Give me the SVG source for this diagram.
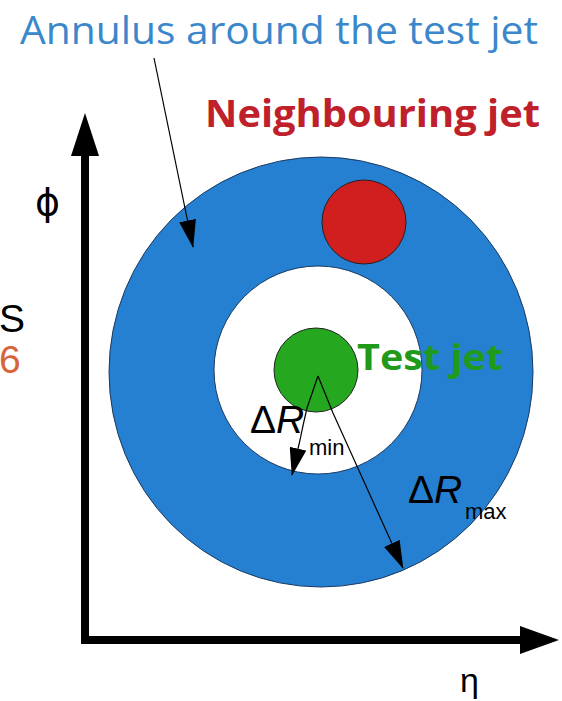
<svg xmlns="http://www.w3.org/2000/svg" width="562" height="701" viewBox="0 0 562 701">
<style>
.lbl{font-family:"Open Sans","Noto Sans",sans-serif}
.sym{font-family:"Liberation Sans","DejaVu Sans",sans-serif}
.thin{fill:none;stroke:#000;stroke-width:1.2}
</style>
<defs>
<marker id="ahs" viewBox="0 0 28 17" refX="27" refY="8.5" markerWidth="28" markerHeight="17" markerUnits="userSpaceOnUse" orient="auto">
<path d="M0,0 L28,8.5 L0,17 z" fill="#000"/>
</marker>
</defs>
<rect width="562" height="701" fill="#fff"/>
<g id="annulus">
<ellipse cx="321" cy="372" rx="212" ry="215" fill="#2680d2" stroke="#1a3a60" stroke-width="1"/>
<circle cx="318" cy="370" r="104" fill="#fff" stroke="#1a3a60" stroke-width="1"/>
</g>
<g id="neighbour-jet">
<circle cx="364" cy="222" r="42" fill="#d11f1f" stroke="#222" stroke-width="1"/>
</g>
<g id="test-jet">
<circle cx="316" cy="370" r="42" fill="#25a81f" stroke="#222" stroke-width="1"/>
</g>
<g id="axes">
<line x1="85" y1="644" x2="85" y2="150" stroke="#000" stroke-width="8"/>
<path d="M85,113 L71,156 L99,156 z" fill="#000"/>
<line x1="81" y1="640" x2="522" y2="640" stroke="#000" stroke-width="8"/>
<path d="M559,640 L520,626 L520,654 z" fill="#000"/>
</g>
<g id="connectors">
<path class="thin" d="M154,58 L193,247" marker-end="url(#ahs)"/>
<path class="thin" d="M318,376 L307,408 Q303,425 300,440 L292,475" marker-end="url(#ahs)"/>
<path class="thin" d="M318,376 L333,413 L403,568" marker-end="url(#ahs)"/>
</g>
<g id="labels">
<text class="lbl" x="20" y="44" font-size="38" fill="#3a88cb" textLength="518" lengthAdjust="spacingAndGlyphs">Annulus around the test jet</text>
<text class="lbl" x="205" y="127" font-size="38" font-weight="bold" fill="#c0202a" textLength="335" lengthAdjust="spacingAndGlyphs">Neighbouring jet</text>
<text class="lbl" x="357" y="370" font-size="35" font-weight="bold" fill="#1f9a1a" textLength="146" lengthAdjust="spacingAndGlyphs">Test jet</text>
<text x="35" y="215" font-size="38" fill="#000" font-family="DejaVu Sans,sans-serif">ϕ</text>
<text class="sym" x="-1" y="332" font-size="39" fill="#000">S</text>
<text class="sym" x="-1" y="373" font-size="39" fill="#d8643a">6</text>
<text class="sym" x="250" y="433" font-size="39" fill="#000">Δ<tspan font-style="italic">R</tspan></text>
<text class="sym" x="309" y="455" font-size="22" fill="#000">min</text>
<text class="sym" x="408" y="503" font-size="39" fill="#000">Δ<tspan font-style="italic">R</tspan></text>
<text class="sym" x="465" y="519" font-size="22" fill="#000">max</text>
<text class="sym" x="460" y="692" font-size="34" fill="#000">η</text>
</g>
</svg>
